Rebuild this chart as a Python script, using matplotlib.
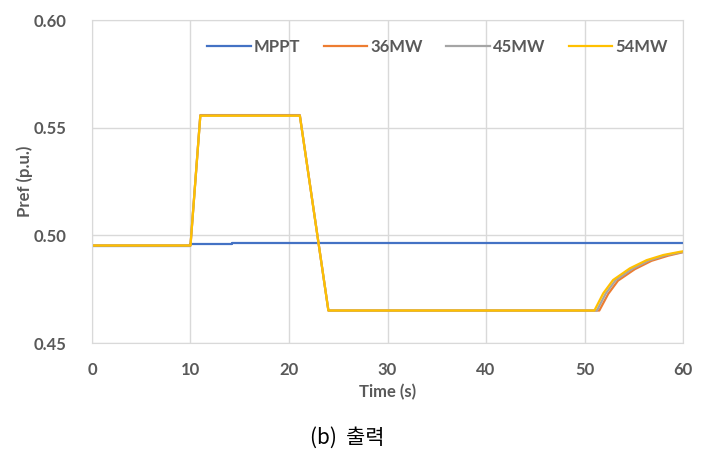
import matplotlib.pyplot as plt

# time (s) and Pref (p.u.)
t_mppt = [0, 10, 10, 14.2, 14.2, 60]
pref_mppt = [0.4953, 0.4953, 0.4958, 0.4958, 0.4965, 0.4965]

t_36 = [0, 10, 11.0, 21.1, 24.0, 51.5, 52.4, 53.4, 55.1, 56.8, 58.5, 60]
pref_36 = [0.4953, 0.4953, 0.5559, 0.5559, 0.4651, 0.4651, 0.4728, 0.4790, 0.4843, 0.4882, 0.4906, 0.4922]

t_45 = [0, 10, 11.0, 21.1, 24.0, 51.25, 52.15, 53.15, 54.85, 56.55, 58.25, 59.95, 60]
pref_45 = [0.4953, 0.4953, 0.5557, 0.5557, 0.4651, 0.4651, 0.4730, 0.4792, 0.4845, 0.4884, 0.4908, 0.4923, 0.4924]

t_54 = [0, 10, 11.0, 21.1, 24.0, 51.0, 51.9, 52.9, 54.6, 56.3, 58.0, 59.7, 60]
pref_54 = [0.4953, 0.4953, 0.5556, 0.5556, 0.4651, 0.4651, 0.4731, 0.4793, 0.4847, 0.4885, 0.4909, 0.4924, 0.4926]

series = [
    ("MPPT", t_mppt, pref_mppt, "#4472C4"),
    ("36MW", t_36, pref_36, "#ED7D31"),
    ("45MW", t_45, pref_45, "#A5A5A5"),
    ("54MW", t_54, pref_54, "#FFC000"),
]

plt.rcParams['font.family'] = ['Lato', 'DejaVu Sans']
grey = "#595959"

fig = plt.figure(figsize=(7.02, 4.58), dpi=100)
ax = fig.add_axes([0.131, 0.251, 0.842, 0.705])

for name, t, v, c in series:
    ax.plot(t, v, color=c, lw=1.6, label=name)

ax.set_xlim(0, 60)
ax.set_ylim(0.45, 0.60)
ax.set_xticks([0, 10, 20, 30, 40, 50, 60])
ax.set_yticks([0.45, 0.50, 0.55, 0.60])
ax.set_yticklabels(["0.45", "0.50", "0.55", "0.60"])
ax.grid(True, color="#d9d9d9", lw=1)
ax.set_axisbelow(True)
for s in ax.spines.values():
    s.set_color("#d9d9d9")
ax.tick_params(length=0, labelsize=12, labelcolor=grey, pad=14)
ax.tick_params(axis='y', pad=18)
for lab in ax.get_xticklabels() + ax.get_yticklabels():
    lab.set_fontweight("bold")

ax.set_xlabel("Time (s)", fontsize=12, fontweight="bold", color=grey, labelpad=4)
ax.set_ylabel("Pref (p.u.)", fontsize=12, fontweight="bold", color=grey, labelpad=1)

leg = ax.legend(loc="center left", bbox_to_anchor=(0.195, 0.916), borderaxespad=0,
                borderpad=0, ncol=4, frameon=False, fontsize=12, handlelength=2.6,
                columnspacing=1.4, handletextpad=0.2)
for txt in leg.get_texts():
    txt.set_color(grey)
    txt.set_fontweight("bold")

fig.text(0.495, 0.045, "(b)  출력", ha="center", va="center", fontsize=15,
         family=['Noto Sans CJK KR', 'DejaVu Sans'])

fig.savefig("out.png", dpi=100)
